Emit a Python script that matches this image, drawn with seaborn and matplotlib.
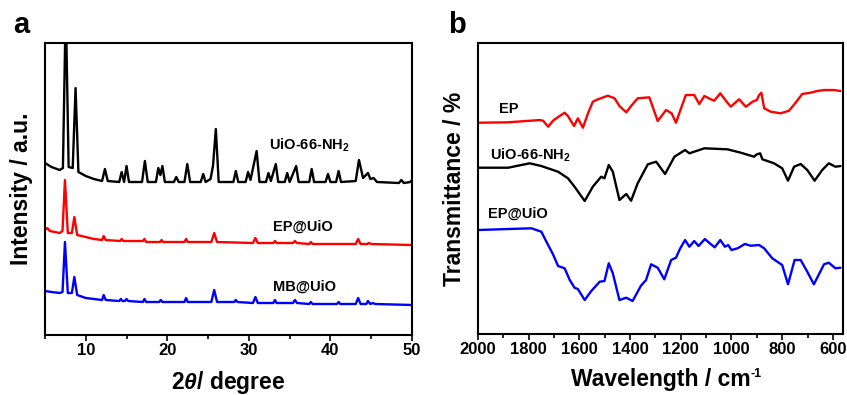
import matplotlib
matplotlib.use("Agg")
import matplotlib.pyplot as plt
import numpy as np
import pandas as pd
import seaborn as sns
from matplotlib.ticker import MultipleLocator

# ---------------- Panel a: XRD (2theta, intensity a.u.) ----------------
uio_theta = [5.0, 5.8, 6.8, 7.2, 7.55, 7.9, 8.4, 8.75, 9.1, 10.0, 11.0, 12.0, 12.35, 12.7,
             14.1, 14.4, 14.7, 15.0, 15.3, 16.9, 17.25, 17.6, 18.6, 18.9, 19.15, 19.4, 19.7,
             20.8, 21.1, 21.4, 22.1, 22.45, 22.8, 24.1, 24.4, 24.7, 25.3, 25.6, 25.95, 26.3,
             28.1, 28.4, 28.7, 29.6, 29.9, 30.2, 30.95, 31.3, 32.1, 32.4, 32.7, 33.3, 33.6,
             34.4, 34.7, 35.0, 35.8, 36.1, 37.4, 37.7, 38.0, 39.4, 39.7, 40.0, 40.7, 41.0,
             41.3, 43.1, 43.5, 44.0, 44.6, 44.9, 45.3, 45.7, 48.4, 48.7, 49.0, 49.8, 50.0]
uio_int = [172, 168, 165, 167, 330, 168, 167, 247, 163, 159, 156, 154, 166, 154,
           153, 163, 153, 169, 153, 153, 174, 153, 153, 167, 160, 169, 153,
           153, 158, 153, 153, 171, 153, 153, 161, 153, 156, 169, 206, 153,
           153, 164, 153, 153, 163, 155, 184, 153, 153, 162, 154, 171, 153,
           153, 162, 153, 169, 153, 153, 166, 153, 153, 161, 153, 153, 164,
           153, 154, 175, 157, 162, 156, 157, 153, 152, 155, 152, 153, 155]

ep_theta = [5.0, 5.3, 5.6, 6.8, 7.15, 7.45, 7.8, 8.3, 8.6, 8.95, 10.0, 11.0, 12.0, 12.2,
            12.45, 14.2, 14.4, 14.6, 17.0, 17.2, 17.4, 19.1, 19.3, 19.5, 22.1, 22.3, 22.5,
            25.4, 25.75, 26.1, 30.5, 30.8, 31.1, 33.0, 33.2, 33.4, 35.4, 35.65, 35.9, 37.4,
            37.6, 37.8, 43.1, 43.4, 43.7, 44.5, 44.7, 45.0, 50.0]
ep_int = [105, 107, 104, 102, 104, 155, 102, 102, 118, 100, 98, 96, 95, 99,
          95, 94, 96, 94, 94, 96, 93, 93, 95, 93, 93, 96, 93,
          93, 102, 93, 92, 97, 92, 92, 94, 92, 92, 94, 92, 91,
          93, 91, 91, 96, 91, 91, 92, 91, 90]

mb_theta = [5.0, 5.8, 6.8, 7.15, 7.45, 7.8, 8.3, 8.6, 8.95, 10.0, 11.0, 12.0, 12.2, 12.45,
            14.1, 14.3, 14.5, 14.8, 15.0, 15.2, 17.0, 17.2, 17.4, 19.0, 19.2, 19.4, 22.1,
            22.3, 22.5, 25.4, 25.75, 26.1, 28.2, 28.4, 28.6, 30.5, 30.8, 31.1, 33.0, 33.2,
            33.4, 35.4, 35.65, 35.9, 37.4, 37.6, 37.8, 40.8, 41.0, 41.2, 43.1, 43.4, 43.7,
            44.4, 44.6, 44.9, 45.2, 45.5, 50.0]
mb_int = [44, 43, 42, 43, 93, 42, 42, 58, 40, 37, 36, 35, 40, 35,
          34, 36, 34, 34, 36, 34, 33, 36, 33, 33, 35, 33, 33,
          37, 33, 33, 45, 33, 33, 35, 33, 32, 38, 32, 32, 35,
          32, 32, 35, 32, 31, 33, 31, 31, 33, 31, 31, 37, 31,
          31, 34, 31, 32, 31, 30]

xrd_names = ["UiO-66-NH2", "EP@UiO", "MB@UiO"]

# ---------------- Panel b: FTIR (wavenumber, transmittance) ----------------
ep_wn = [1999, 1881, 1756, 1743, 1723, 1704, 1678, 1658, 1645, 1621, 1606, 1586, 1566, 1547,
         1527, 1488, 1461, 1442, 1415, 1396, 1370, 1324, 1291, 1258, 1236, 1219, 1199, 1180,
         1147, 1127, 1107, 1081, 1068, 1044, 1022, 1003, 970, 943, 917, 900, 891, 882, 871,
         845, 806, 773, 747, 721, 688, 662, 635, 596, 570]
ep_t = [211.3, 211.7, 214, 213.3, 207.3, 213.3, 218, 221.3, 218, 208, 215.7, 206.3, 220.7, 232.3,
        234.7, 238.3, 235.7, 228, 221.7, 228, 235.7, 236.7, 213, 224, 220.7, 211.3, 225.7, 239,
        239, 230, 238, 234.7, 233.3, 240.7, 233.3, 227.3, 234.7, 227.3, 232.3, 234, 239, 241.3, 225.7,
        222.3, 220.7, 223.3, 231.3, 240, 241.3, 243, 244, 244, 243]

uio_wn = [1999, 1881, 1796, 1750, 1684, 1645, 1619, 1579, 1547, 1514, 1501, 1484, 1468, 1442,
          1415, 1396, 1370, 1330, 1297, 1262, 1225, 1183, 1166, 1107, 1016, 963, 911, 900, 887,
          878, 832, 800, 777, 753, 727, 701, 672, 642, 616, 590, 570]
uio_t = [166.3, 166.3, 170.7, 168, 162.3, 155.7, 147.3, 133, 147.3, 157.3, 155.7, 169, 162.3, 134,
         140, 133.3, 150.7, 169.7, 172.3, 160, 177.3, 184, 180.7, 185.7, 184.7, 181.3, 177.3, 179.7, 180.7,
         174.7, 170.7, 165.7, 153.3, 167.3, 170, 164, 153.3, 164, 170.7, 167.3, 168]

epuio_wn = [1999, 1881, 1789, 1750, 1730, 1704, 1684, 1658, 1638, 1619, 1606, 1579, 1553, 1520,
            1501, 1484, 1468, 1442, 1415, 1390, 1357, 1337, 1317, 1291, 1265, 1238, 1219, 1202,
            1183, 1166, 1147, 1130, 1105, 1081, 1066, 1044, 1026, 1013, 1000, 976, 947, 924, 891,
            871, 839, 800, 777, 751, 727, 701, 675, 635, 616, 590, 570]
epuio_t = [104, 105, 105.7, 102.3, 92.3, 79.7, 68, 65.7, 54, 46.3, 45, 34, 43, 52.3,
           53, 70.7, 60.7, 34, 36.3, 33, 48.3, 54, 69.7, 66.3, 54.7, 74, 76.3, 85.7,
           94, 87.3, 93, 88, 95, 89.7, 86.7, 94, 87.3, 89, 84, 85.7, 90, 88.3, 89,
           85.7, 75.7, 69, 49.7, 74, 74, 62.3, 49.7, 69.7, 71.3, 65.7, 66.3]

ir_names = ["EP", "UiO-66-NH2", "EP@UiO"]

xrd = pd.concat([
    pd.DataFrame({"theta": uio_theta, "I": uio_int, "s": xrd_names[0]}),
    pd.DataFrame({"theta": ep_theta, "I": ep_int, "s": xrd_names[1]}),
    pd.DataFrame({"theta": mb_theta, "I": mb_int, "s": xrd_names[2]}),
], ignore_index=True)
ir = pd.concat([
    pd.DataFrame({"wn": ep_wn, "T": ep_t, "s": ir_names[0]}),
    pd.DataFrame({"wn": uio_wn, "T": uio_t, "s": ir_names[1]}),
    pd.DataFrame({"wn": epuio_wn, "T": epuio_t, "s": ir_names[2]}),
], ignore_index=True)

sns.set_theme(style="white")
plt.rcParams["font.family"] = ["Liberation Sans", "DejaVu Sans"]
plt.rcParams["font.weight"] = "bold"
plt.rcParams["axes.labelweight"] = "bold"
plt.rcParams["mathtext.fontset"] = "custom"
plt.rcParams["mathtext.rm"] = "Liberation Sans:bold"
plt.rcParams["mathtext.bf"] = "Liberation Sans:bold"
plt.rcParams["mathtext.it"] = "Liberation Sans:italic:bold"

fig = plt.figure(figsize=(8.47, 3.95), dpi=100)
axa = fig.add_axes([0.0531, 0.1519, 0.4333, 0.7392])
axb = fig.add_axes([0.5643, 0.1544, 0.4310, 0.7367])

sns.lineplot(data=xrd, x="theta", y="I", hue="s", units="s", estimator=None,
             palette={"UiO-66-NH2": "#000000", "EP@UiO": "#ff0000", "MB@UiO": "#0000ff"},
             legend=False, linewidth=1.7, ax=axa)
sns.lineplot(data=ir, x="wn", y="T", hue="s", units="s", estimator=None,
             palette={"EP": "#ff0000", "UiO-66-NH2": "#000000", "EP@UiO": "#0000ff"},
             legend=False, linewidth=1.7, ax=axb)

axa.set_xlim(5, 50)
axa.set_ylim(0, 292)
axb.set_xlim(2000, 560)
axb.set_ylim(0, 291)

axa.xaxis.set_major_locator(MultipleLocator(10))
axa.xaxis.set_minor_locator(MultipleLocator(5))
axb.xaxis.set_major_locator(MultipleLocator(200))
axb.xaxis.set_minor_locator(MultipleLocator(100))

for ax in (axa, axb):
    ax.set_yticks([])
    for sp in ax.spines.values():
        sp.set_color("black")
        sp.set_linewidth(1.5)
    ax.tick_params(axis="x", which="both", direction="out", bottom=True, top=False,
                   color="black", width=1.2, labelsize=12, labelcolor="black", pad=2)
    ax.tick_params(axis="x", which="major", length=4)
    ax.tick_params(axis="x", which="minor", length=3)

axa.set_xlabel(r"2$\theta$/ degree", fontsize=16.5, labelpad=8, color="black")
axa.set_ylabel("Intensity / a.u.", fontsize=16.5, color="black")
axa.yaxis.set_label_coords(-0.033, 0.5)
axb.set_xlabel("Wavelength / cm", fontsize=16.5, labelpad=8, color="black")
axb.annotate("-1", xy=(1.0, 1.02), xycoords=axb.xaxis.label, ha="left", va="top",
             fontsize=9, fontweight="bold", color="black")
axb.set_ylabel("Transmittance / %", fontsize=16.5, color="black")
axb.yaxis.set_label_coords(-0.033, 0.5)

lbl = dict(fontsize=10.5, fontweight="bold", color="black", va="baseline", ha="left")
axa.text(0.610, 0.634, r"UiO-66-NH$_\mathbf{2}$", transform=axa.transAxes, **lbl)
axa.text(0.621, 0.357, "EP@UiO", transform=axa.transAxes, **lbl)
axa.text(0.621, 0.152, "MB@UiO", transform=axa.transAxes, **lbl)
axb.text(0.0575, 0.758, "EP", transform=axb.transAxes, **lbl)
axb.text(0.033, 0.598, r"UiO-66-NH$_\mathbf{2}$", transform=axb.transAxes, **lbl)
axb.text(0.0274, 0.401, "EP@UiO", transform=axb.transAxes, **lbl)

fig.text(13 / 847, 1 - 33 / 395, "a", fontsize=21, fontweight="bold", color="black")
fig.text(448 / 847, 1 - 33 / 395, "b", fontsize=21, fontweight="bold", color="black")

fig.savefig("out.png", dpi=100)
